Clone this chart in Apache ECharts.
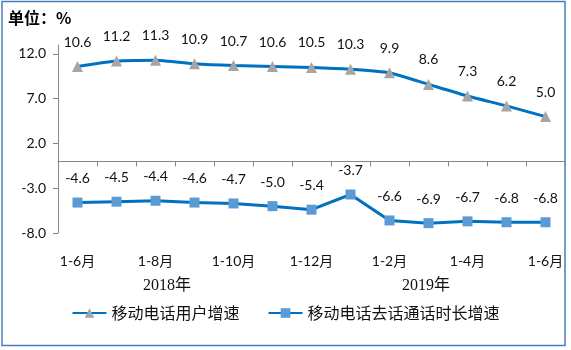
<!DOCTYPE html>
<html><head><meta charset="utf-8">
<script src="https://cdn.jsdelivr.net/npm/echarts@6/dist/echarts.min.js"></script>
<style>html,body{margin:0;padding:0;background:#fff}#c{width:571px;height:350px}</style>
</head><body><div id="c"></div>
<script>
const categories = ['1-6月','1-7月','1-8月','1-9月','1-10月','1-11月','1-12月','1月','1-2月','1-3月','1-4月','1-5月','1-6月'];
const shownLabels = ['1-6月','','1-8月','','1-10月','','1-12月','','1-2月','','1-4月','','1-6月'];
const userGrowth = [10.6,11.2,11.3,10.9,10.7,10.6,10.5,10.3,9.9,8.6,7.3,6.2,5.0];
const callGrowth = [-4.6,-4.5,-4.4,-4.6,-4.7,-5.0,-5.4,-3.7,-6.6,-6.9,-6.7,-6.8,-6.8];
const yTicks = [-8,-3,2,7,12];
const seriesNames = ['移动电话用户增速','移动电话去话通话时长增速'];
const yearLabels = ['2018年','2019年'];

const chart = echarts.init(document.getElementById('c'));
const labelFont = {fontFamily:'Lato, "Noto Sans", sans-serif', fontSize:14, color:'#111'};
chart.setOption({
  animation:false,
  grid:{left:58, right:6, top:45, bottom:117},
  xAxis:{type:'category', data:categories, boundaryGap:true,
    axisLine:{lineStyle:{color:'#868686', width:1}},
    axisTick:{show:true, interval:0, length:5, lineStyle:{color:'#868686'}},
    axisLabel:{interval:0, margin:21, fontSize:14, color:'#111', fontFamily:'Lato, "Noto Sans CJK SC", sans-serif',
      formatter:(v,i)=>shownLabels[i]}
  },
  yAxis:{type:'value', min:-8, max:13, interval:5,
    splitLine:{show:false},
    axisLine:{show:true, lineStyle:{color:'#868686'}},
    axisTick:{show:true, length:5, inside:false, customValues:yTicks, lineStyle:{color:'#868686'}},
    axisLabel:{customValues:yTicks, margin:12, fontSize:14, color:'#111', fontFamily:'Lato, "Noto Sans", sans-serif',
      formatter:v=>v.toFixed(1)}
  },
  legend:{bottom:24, left:'center', itemGap:28, itemWidth:34, itemHeight:12,
    textStyle:{fontSize:16, color:'#111', fontFamily:'"Noto Sans CJK SC", sans-serif'},
    data:[seriesNames[0], seriesNames[1]]
  },
  series:[
    {name:seriesNames[0], type:'line', data:userGrowth, smooth:0.15,
      lineStyle:{color:'#0070C0', width:3}, itemStyle:{color:'#A5A5A5'},
      symbol:'triangle', symbolSize:11,
      label:{show:true, position:'top', distance:12, formatter:p=>p.value.toFixed(1), ...labelFont}
    },
    {name:seriesNames[1], type:'line', data:callGrowth,
      lineStyle:{color:'#0070C0', width:3}, itemStyle:{color:'#5B9BD5'},
      symbol:'rect', symbolSize:10,
      label:{show:true, position:'top', distance:12, formatter:p=>p.value.toFixed(1), ...labelFont}
    }
  ],
  graphic:[
    {type:'rect', shape:{x:2, y:1.5, width:563, height:344}, style:{fill:'none', stroke:'#4A7EBB', lineWidth:1.5}, silent:true},
    {type:'text', left:8, top:10, style:{text:'单位：%', fontSize:16, fontWeight:'bold', fill:'#000', fontFamily:'"Noto Sans CJK SC", sans-serif'}},
    {type:'text', left:143, top:278, style:{text:yearLabels[0], fontSize:16, fill:'#111', fontFamily:'"Liberation Serif", "Noto Sans CJK SC", serif'}},
    {type:'text', left:402, top:278, style:{text:yearLabels[1], fontSize:16, fill:'#111', fontFamily:'"Liberation Serif", "Noto Sans CJK SC", serif'}}
  ]
});
</script></body></html>
